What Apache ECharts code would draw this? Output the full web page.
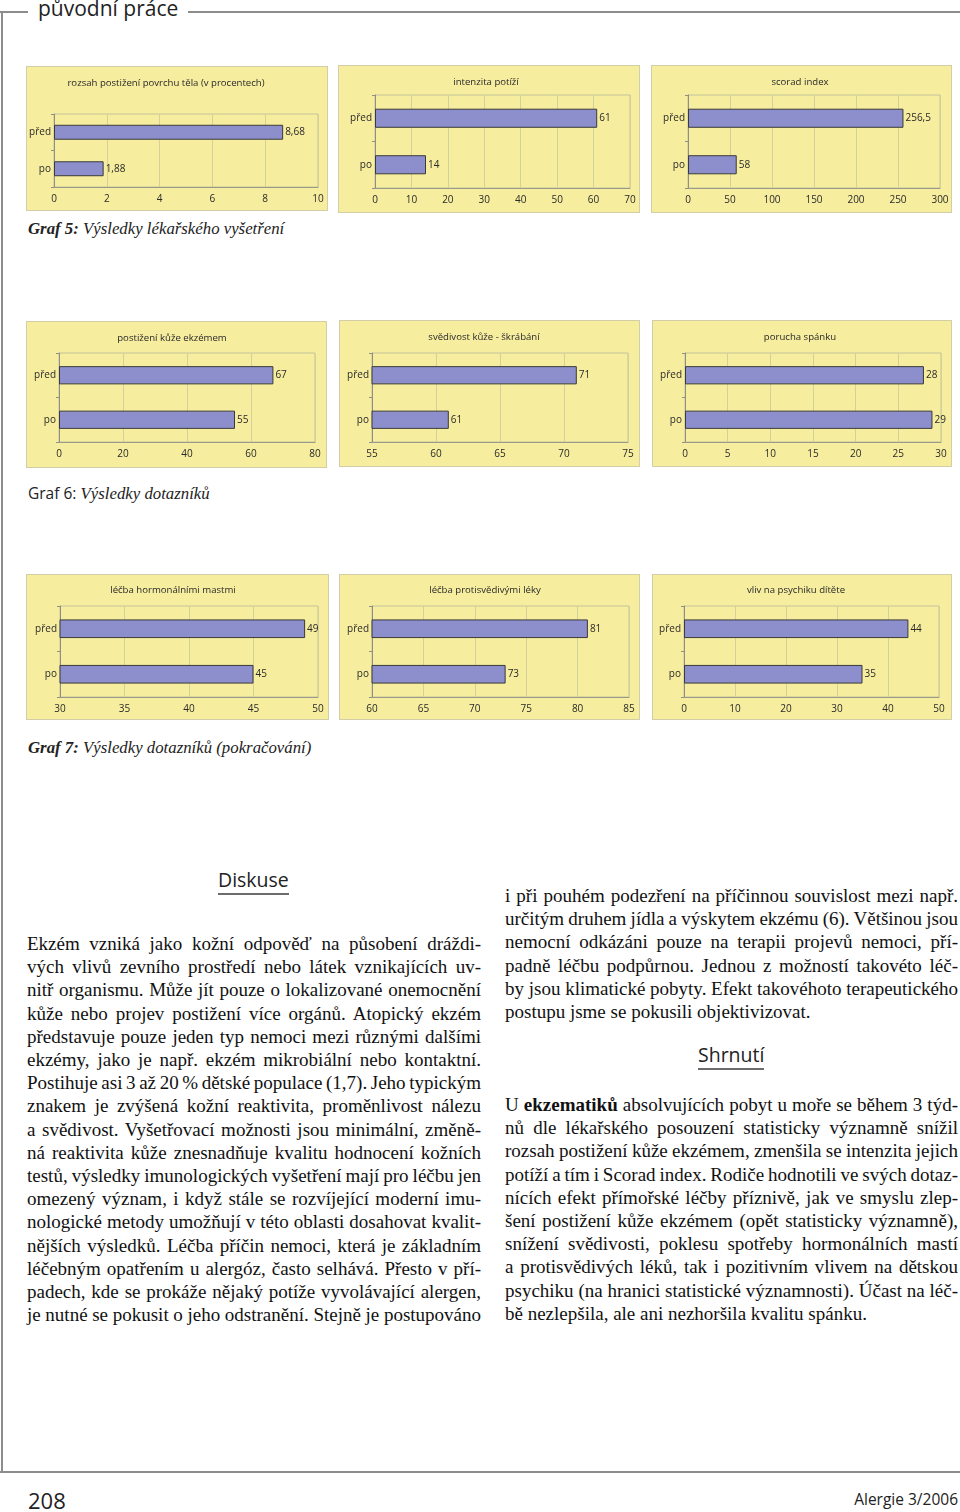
<!DOCTYPE html>
<html lang="cs">
<head>
<meta charset="utf-8">
<title>Graf 5 – 7</title>
<script src="https://cdn.jsdelivr.net/npm/echarts@6/dist/echarts.min.js"></script>
<style>
  html, body { margin: 0; padding: 0; background: #fff; }
  body { width: 960px; height: 1512px; position: relative; overflow: hidden; font-family: 'Open Sans', sans-serif; color: #1a1a1a; }
  .panel { position: absolute; background: #f6ed9e; box-shadow: inset 0 0 0 1px #d2cea8; }
  .rule { position: absolute; background: #8c8c8c; }
  .caption { position: absolute; left: 28px; font-family: 'Liberation Serif', serif; font-size: 16.8px; line-height: 20px; font-style: italic; color: #222; white-space: nowrap; }
  .caption .sans { font-family: 'Open Sans', sans-serif; font-style: normal; font-size: 15.5px; }
  .heading { position: absolute; font-size: 19.5px; line-height: 22px; color: #222; border-bottom: 2px solid #6c6c6c; padding-bottom: 2px; white-space: nowrap; }
  .col { position: absolute; font-family: 'Liberation Serif', serif; font-size: 19px; line-height: 23.2px; color: #111; }
  .col div { white-space: nowrap; }
</style>
</head>
<body>

<div style="position:absolute;left:38px;top:-4px;font-size:21px;line-height:24px;color:#222">původní práce</div>
<div class="rule" style="left:0;top:11px;width:28px;height:1.5px"></div>
<div class="rule" style="left:188px;top:11px;width:772px;height:1.5px"></div>
<div class="rule" style="left:1px;top:11px;width:1.5px;height:1461px"></div>
<div class="rule" style="left:0;top:1471px;width:960px;height:1.5px"></div>

<div id="panels"></div>

<div class="caption" style="top:219px"><b>Graf 5:</b> Výsledky lékařského vyšetření</div>
<div class="caption" style="top:483px"><span class="sans">Graf 6:</span> Výsledky dotazníků</div>
<div class="caption" style="top:738px"><b>Graf 7:</b> Výsledky dotazníků (pokračování)</div>

<div class="heading" style="left:218px;top:869px">Diskuse</div>
<div class="heading" style="left:698px;top:1044px">Shrnutí</div>

<div id="colLeft" class="col" style="left:27px;top:932px;width:454px"></div>
<div id="colRight1" class="col" style="left:505px;top:884px;width:453px"></div>
<div id="colRight2" class="col" style="left:505px;top:1093px;width:453px"></div>

<div style="position:absolute;left:28px;top:1487px;font-size:22px;line-height:26px;color:#222">208</div>
<div style="position:absolute;right:2px;top:1489px;font-size:15.5px;line-height:20px;color:#222">Alergie 3/2006</div>

<script>
// data
const categories = ['před', 'po'];
const chartTitles = [
  'rozsah postižení povrchu těla (v procentech)',
  'intenzita potíží',
  'scorad index',
  'postižení kůže ekzémem',
  'svědivost kůže - škrábání',
  'porucha spánku',
  'léčba hormonálními mastmi',
  'léčba protisvědivými léky',
  'vliv na psychiku dítěte'
];
const beforeValues = [8.68, 61, 256.5, 67, 71, 28, 49, 81, 44];
const afterValues = [1.88, 14, 58, 55, 61, 29, 45, 73, 35];
const axisMin = [0, 0, 0, 0, 55, 0, 30, 60, 0];
const axisMax = [10, 70, 300, 80, 75, 30, 50, 85, 50];
const axisStep = [2, 10, 50, 20, 5, 5, 5, 5, 10];

// layout: panel box [x, y, w, h], plot margins [left, top, right, bottom], title centre [x, y]
const panelBoxes = [
  [26, 66, 302, 145], [338, 65, 302, 148], [651, 65, 301, 148],
  [26, 321, 301, 147], [339, 320, 301, 147], [652, 320, 300, 147],
  [26, 574, 303, 146], [339, 574, 301, 146], [652, 574, 300, 146]
];
const plotMargins = [
  [28, 48, 10, 24], [37, 30, 10, 25], [37, 30, 12, 25],
  [33, 32, 12, 26], [33, 33, 12, 25], [33, 33, 11, 25],
  [34, 32, 11, 23], [33, 32, 11, 23], [32, 32, 13, 23]
];
const titleCentres = [
  [140, 19], [148, 19], [149, 19],
  [146, 19], [145, 19], [148, 19],
  [147, 18], [146, 18], [144, 18]
];

const labelFont = { fontFamily: 'Open Sans', fontSize: 10, color: '#2a2a2a' };
const holder = document.getElementById('panels');

chartTitles.forEach((title, i) => {
  const [x, y, w, h] = panelBoxes[i];
  const el = document.createElement('div');
  el.className = 'panel';
  el.style.cssText = `left:${x}px;top:${y}px;width:${w}px;height:${h}px`;
  holder.appendChild(el);

  const [gl, gt, gr, gb] = plotMargins[i];
  const chart = echarts.init(el, null, { renderer: 'canvas' });
  chart.setOption({
    animation: false,
    backgroundColor: 'transparent',
    title: {
      text: title,
      left: titleCentres[i][0],
      top: titleCentres[i][1] - 7,
      textAlign: 'center',
      padding: 0,
      textStyle: { ...labelFont, fontSize: 9.6, fontWeight: 'normal' }
    },
    grid: {
      left: gl, top: gt, right: gr, bottom: gb,
      show: true,
      borderColor: '#c4c29a',
      borderWidth: 1,
      backgroundColor: 'transparent'
    },
    xAxis: {
      type: 'value',
      min: axisMin[i],
      max: axisMax[i],
      interval: axisStep[i],
      axisLine: { show: true, lineStyle: { color: '#9a9a8a' } },
      axisTick: { show: false },
      axisLabel: { ...labelFont, margin: 7 },
      splitLine: { show: true, lineStyle: { color: '#d3d09c' } }
    },
    yAxis: {
      type: 'category',
      data: categories,
      inverse: true,
      axisLine: { show: true, lineStyle: { color: '#8f8f86' } },
      axisTick: { show: true, length: 3, lineStyle: { color: '#8f8f86' } },
      axisLabel: { ...labelFont, margin: 3 },
      splitLine: { show: false }
    },
    series: [{
      type: 'bar',
      data: [beforeValues[i], afterValues[i]],
      barWidth: '41%',
      clip: true,
      itemStyle: { color: '#8c8fcb', borderColor: '#3a3a3a', borderWidth: 1 },
      label: {
        show: true,
        position: 'right',
        distance: 2,
        ...labelFont,
        formatter: (p) => String(p.value).replace('.', ',')
      }
    }]
  });
});

// body text, one entry per printed line
const leftLines = [
  'Ekzém vzniká jako kožní odpověď na působení dráždi-',
  'vých vlivů zevního prostředí nebo látek vznikajících uv-',
  'nitř organismu. Může jít pouze o lokalizované onemocnění',
  'kůže nebo projev postižení více orgánů. Atopický ekzém',
  'představuje pouze jeden typ nemoci mezi různými dalšími',
  'ekzémy, jako je např. ekzém mikrobiální nebo kontaktní.',
  'Postihuje asi 3 až 20 % dětské populace (1,7). Jeho typickým',
  'znakem je zvýšená kožní reaktivita, proměnlivost nálezu',
  'a svědivost. Vyšetřovací možnosti jsou minimální, změně-',
  'ná reaktivita kůže znesnadňuje kvalitu hodnocení kožních',
  'testů, výsledky imunologických vyšetření mají pro léčbu jen',
  'omezený význam, i když stále se rozvíjející moderní imu-',
  'nologické metody umožňují v této oblasti dosahovat kvalit-',
  'nějších výsledků. Léčba příčin nemoci, která je základním',
  'léčebným opatřením u alergóz, často selhává. Přesto v pří-',
  'padech, kde se prokáže nějaký potíže vyvolávající alergen,',
  'je nutné se pokusit o jeho odstranění. Stejně je postupováno'
];
const rightLines1 = [
  'i při pouhém podezření na příčinnou souvislost mezi např.',
  'určitým druhem jídla a výskytem ekzému (6). Většinou jsou',
  'nemocní odkázáni pouze na terapii projevů nemoci, pří-',
  'padně léčbu podpůrnou. Jednou z možností takovéto léč-',
  'by jsou klimatické pobyty. Efekt takovéhoto terapeutického',
  'postupu jsme se pokusili objektivizovat.'
];
const rightLines2 = [
  'U <b>ekzematiků</b> absolvujících pobyt u moře se během 3 týd-',
  'nů dle lékařského posouzení statisticky významně snížil',
  'rozsah postižení kůže ekzémem, zmenšila se intenzita jejich',
  'potíží a tím i Scorad index. Rodiče hodnotili ve svých dotaz-',
  'nících efekt přímořské léčby příznivě, jak ve smyslu zlep-',
  'šení postižení kůže ekzémem (opět statisticky významně),',
  'snížení svědivosti, poklesu spotřeby hormonálních mastí',
  'a protisvědivých léků, tak i pozitivním vlivem na dětskou',
  'psychiku (na hranici statistické významnosti). Účast na léč-',
  'bě nezlepšila, ale ani nezhoršila kvalitu spánku.'
];

function fillColumn(id, lines, lastIsShort) {
  const col = document.getElementById(id);
  const width = col.clientWidth;
  lines.forEach((text, k) => {
    const line = document.createElement('div');
    const span = document.createElement('span');
    span.innerHTML = text;
    line.appendChild(span);
    col.appendChild(line);
    if (lastIsShort && k === lines.length - 1) return;
    const gaps = (span.textContent.match(/ /g) || []).length;
    const natural = span.getBoundingClientRect().width;
    if (gaps) line.style.wordSpacing = ((width - natural) / gaps) + 'px';
  });
}

fillColumn('colLeft', leftLines, false);
fillColumn('colRight1', rightLines1, true);
fillColumn('colRight2', rightLines2, true);
</script>
</body>
</html>
